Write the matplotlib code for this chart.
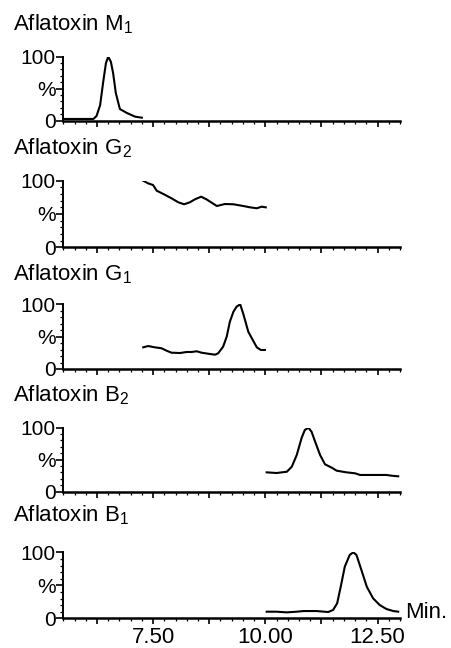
import matplotlib
matplotlib.use("Agg")
import matplotlib.pyplot as plt
from matplotlib.ticker import MultipleLocator, FixedLocator

plt.rcParams['font.family'] = ['Liberation Sans', 'DejaVu Sans']
plt.rcParams['mathtext.default'] = 'regular'

titles = ["Aflatoxin M$_1$", "Aflatoxin G$_2$", "Aflatoxin G$_1$",
          "Aflatoxin B$_2$", "Aflatoxin B$_1$"]

m1_t = [5.5, 6.17, 6.24, 6.32, 6.39, 6.45, 6.50, 6.56, 6.61, 6.67, 6.76, 6.91, 7.10, 7.25]
m1_y = [2.4, 2.4, 7, 24, 61, 90, 100, 92, 74, 43, 18, 12, 6, 4.4]

g2_t = [7.28, 7.39, 7.50, 7.58, 7.73, 7.91, 8.06, 8.19, 8.32, 8.43, 8.57, 8.69,
        8.92, 9.10, 9.29, 9.51, 9.66, 9.81, 9.92, 10.01]
g2_y = [100, 96, 93.5, 85, 80, 73.6, 67.6, 64.6, 67.6, 72, 76, 72,
        62, 65, 64.6, 62, 60, 58.6, 61, 60]

g1_t = [7.28, 7.39, 7.54, 7.69, 7.80, 7.91, 8.10, 8.25, 8.36, 8.47, 8.58, 8.73, 8.88,
        8.95, 9.06, 9.14, 9.21, 9.29, 9.36, 9.44, 9.51, 9.62, 9.70, 9.81, 9.90, 9.99]
g1_y = [33.5, 35.5, 33.5, 32, 28.3, 25.2, 24.7, 26.3, 26.3, 27.4, 25.2, 23.6, 22.1,
        24.3, 34.5, 50, 73, 88.6, 96.3, 100, 85, 57.7, 47.4, 33.5, 29.4, 29.4]

b2_t = [10.03, 10.25, 10.48, 10.59, 10.70, 10.81, 10.88, 10.96, 11.03, 11.11, 11.22,
        11.33, 11.48, 11.59, 11.81, 12.0, 12.11, 12.40, 12.70, 12.81, 12.96]
b2_y = [30, 29, 31, 38.9, 57.2, 84.3, 96.4, 100, 93.7, 78, 57.2,
        42.6, 37.3, 32.6, 30, 28.5, 25.9, 25.9, 25.9, 24.8, 23.8]

b1_t = [10.03, 10.25, 10.48, 10.70, 10.85, 11.14, 11.40, 11.51, 11.60, 11.68, 11.77,
        11.88, 11.96, 12.03, 12.14, 12.26, 12.40, 12.55, 12.70, 12.85, 12.96]
b1_y = [10, 10, 9, 10, 11, 11, 9.5, 12.6, 22.7, 47.9, 78.2,
        96, 100, 96, 73.2, 47.9, 30.3, 20, 14, 11, 10]

series = [(m1_t, m1_y), (g2_t, g2_y), (g1_t, g1_y), (b2_t, b2_y), (b1_t, b1_y)]

x_ticks_major = [6.25, 7.5, 8.75, 10.0, 11.25, 12.5]
x_ticklabels = ["", "7.50", "", "10.00", "", "12.50"]
y_ticks = [0, 50, 100]
y_ticklabels = ["0", "%", "100"]

W, H = 451, 648
fig = plt.figure(figsize=(W / 100, H / 100), dpi=100)

# (y of 100 line, y of 0 line, title baseline) in pixels from top
panels = [(56.7, 120.5, 30.7), (180.7, 247.3, 154), (304.3, 369, 280),
          (427.7, 491.5, 401), (552.3, 618.3, 521)]
left_px, right_px = 63.3, 400

for i, ((t, y), (ytop, ybot, tb)) in enumerate(zip(series, panels)):
    ax = fig.add_axes([left_px / W, 1 - ybot / H, (right_px - left_px) / W, (ybot - ytop) / H])
    ax.plot(t, y, color='black', lw=1.5, solid_joinstyle='round')
    ax.set_xlim(5.5, 13.0)
    ax.set_ylim(0, 100)
    for s in ['top', 'right']:
        ax.spines[s].set_visible(False)
    ax.spines['left'].set_linewidth(1.4)
    ax.spines['bottom'].set_linewidth(1.8)
    ax.xaxis.set_major_locator(FixedLocator(x_ticks_major))
    ax.xaxis.set_minor_locator(MultipleLocator(0.25))
    ax.yaxis.set_major_locator(FixedLocator(y_ticks))
    ax.yaxis.set_minor_locator(MultipleLocator(10))
    ax.set_yticklabels(y_ticklabels)
    if i == 4:
        ax.set_xticklabels(x_ticklabels)
    else:
        ax.set_xticklabels([])
    ax.tick_params(axis='x', which='major', direction='out', length=4, width=1.2,
                   labelsize=16, pad=2)
    ax.tick_params(axis='x', which='minor', direction='out', length=2, width=0.9)
    ax.tick_params(axis='y', which='major', direction='out', length=5, width=1.2,
                   labelsize=15, pad=0.5)
    ax.tick_params(axis='y', which='minor', direction='out', length=2, width=0.9)
    fig.text(13 / W, 1 - tb / H, titles[i], fontsize=16, ha='left', va='baseline')

fig.text(405 / W, 1 - 618 / H, "Min.", fontsize=16, ha='left', va='baseline')

fig.savefig("out.png", dpi=100, facecolor='white')
